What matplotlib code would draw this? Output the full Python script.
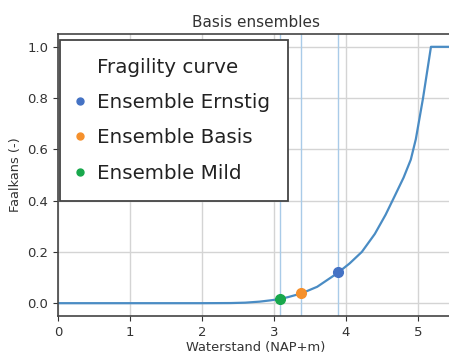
import matplotlib
matplotlib.use("Agg")
import matplotlib.pyplot as plt
from matplotlib.lines import Line2D

# fragility curve
waterstand = [0, 1, 2, 2.4, 2.6, 2.8, 2.95, 3.08, 3.2, 3.38, 3.6, 3.88, 4.05,
              4.22, 4.4, 4.55, 4.68, 4.8, 4.9, 4.97, 5.07, 5.18, 5.5]
faalkans = [0, 0, 0, 0.0005, 0.002, 0.006, 0.011, 0.016, 0.024, 0.038, 0.064,
            0.117, 0.155, 0.20, 0.27, 0.345, 0.42, 0.49, 0.56, 0.64, 0.80, 1.0, 1.0]

# ensembles
ens_names = ["Ensemble Ernstig", "Ensemble Basis", "Ensemble Mild"]
ens_x = [3.89, 3.38, 3.08]
ens_y = [0.12, 0.039, 0.016]
ens_colors = ["#4472c4", "#f5902c", "#18a84c"]

fig = plt.figure(figsize=(4.49, 3.54), dpi=100)
ax = fig.add_axes([58 / 449, 38 / 354, 396 / 449, 282 / 354])

ax.grid(True, color="#d4d4d4", linewidth=1.0)
ax.set_axisbelow(True)

for x in ens_x:
    ax.axvline(x, color="#a9cbe8", linewidth=1.0, zorder=1)

ax.plot(waterstand, faalkans, color="#4a8cc4", linewidth=1.6, zorder=2)

for name, x, y, c in zip(ens_names, ens_x, ens_y, ens_colors):
    ax.plot(x, y, "o", color=c, markersize=7, zorder=3)

ax.set_xlim(0, 5.5)
ax.set_ylim(-0.05, 1.05)
ax.set_xticks([0, 1, 2, 3, 4, 5])
ax.set_yticks([0.0, 0.2, 0.4, 0.6, 0.8, 1.0])
ax.tick_params(labelsize=9.5, colors="#333333")
for s in ax.spines.values():
    s.set_color("#444444")
    s.set_linewidth(1.2)

ax.set_title("Basis ensembles", fontsize=11, color="#333333", pad=5)
ax.set_xlabel("Waterstand (NAP+m)", fontsize=9.4, color="#333333", labelpad=2)
ax.set_ylabel("Faalkans (-)", fontsize=9.4, color="#333333")

handles = [Line2D([], [], linestyle="none")]
for c in ens_colors:
    handles.append(Line2D([], [], marker="o", linestyle="none", color=c, markersize=5))
leg = ax.legend(handles, ["Fragility curve"] + ens_names, loc="upper left",
                bbox_to_anchor=(0.006, 0.979), borderaxespad=0,
                fontsize=14.3, labelspacing=0.82, handlelength=0.2, handletextpad=0.76,
                fancybox=False, framealpha=1, borderpad=0.9)
leg.get_frame().set_edgecolor("#444444")
leg.get_frame().set_linewidth(1.3)
for t in leg.get_texts():
    t.set_color("#222222")

fig.savefig("out.png", dpi=100)
